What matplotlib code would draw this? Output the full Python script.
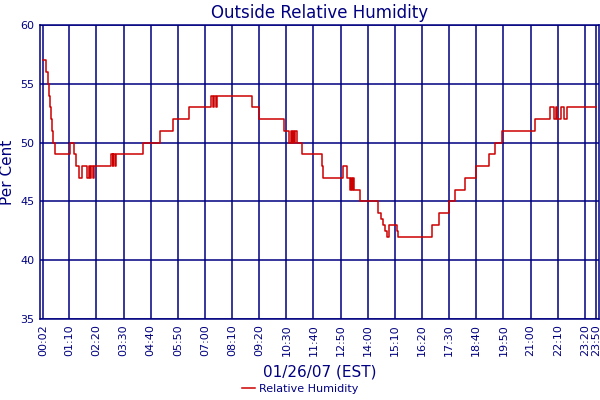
import numpy as np
import matplotlib
matplotlib.use('Agg')
import matplotlib.pyplot as plt

# humidity readings (minutes after midnight, value)
minutes = [2, 11, 14, 17, 20, 23, 25, 28, 33, 71, 83, 87, 95, 103, 116, 120,
           123, 127, 130, 135, 177, 182, 184, 187, 190, 260, 305, 337, 380,
           435, 440, 444, 448, 450, 542, 559, 624, 637, 641, 644, 646, 650,
           653, 658, 671, 721, 724, 775, 786, 795, 798, 800, 803, 805, 821,
           867, 875, 880, 885, 889, 895, 915, 918, 1006, 1023, 1050, 1066,
           1092, 1119, 1152, 1168, 1186, 1271, 1311, 1321, 1325, 1329, 1338,
           1346, 1354, 1428]
humidity = [57, 56, 55, 54, 53, 52, 51, 50, 49, 50, 49, 48, 47, 48, 47, 48,
            47, 48, 47, 48, 49, 48, 49, 48, 49, 50, 51, 52, 53,
            54, 53, 54, 53, 54, 53, 52, 51, 50, 51, 50, 51, 50,
            51, 50, 49, 48, 47, 48, 47, 46, 47, 46, 47, 46, 45,
            44, 43.5, 43, 42.5, 42, 43, 42.5, 42, 43, 44, 45, 46,
            47, 48, 49, 50, 51, 52, 53, 52, 53, 52, 53,
            52, 53, 53]

tick_min = [2, 70, 140, 210, 280, 350, 420, 490, 560, 630, 700, 770, 840,
            910, 980, 1050, 1120, 1190, 1260, 1330, 1400, 1430]
tick_lbl = ['00:02', '01:10', '02:20', '03:30', '04:40', '05:50', '07:00',
            '08:10', '09:20', '10:30', '11:40', '12:50', '14:00', '15:10',
            '16:20', '17:30', '18:40', '19:50', '21:00', '22:10', '23:20',
            '23:50']

navy = '#000080'

fig = plt.figure(figsize=(6, 4), dpi=100)
ax = fig.add_axes([0.067, 0.2025, 0.931, 0.735])

ax.plot(minutes, humidity, color='#cc0000', lw=1.1, drawstyle='steps-post',
        label='Relative Humidity')

ax.set_xlim(-5, 1436)
ax.set_ylim(35, 60)
ax.set_yticks([35, 40, 45, 50, 55, 60])
ax.set_xticks(tick_min)
ax.set_xticklabels(tick_lbl, rotation=90)
ax.grid(True, color=navy, lw=1.1)
ax.tick_params(length=0, colors=navy, labelsize=8, pad=4)
for s in ax.spines.values():
    s.set_color(navy)
    s.set_linewidth(1.1)

ax.set_title('Outside Relative Humidity', color=navy, fontsize=12, pad=5)
ax.set_ylabel('Per Cent', color=navy, fontsize=11, labelpad=4)
ax.set_xlabel('01/26/07 (EST)', color=navy, fontsize=11, labelpad=6)

fig.legend(loc='lower center', bbox_to_anchor=(0.5, -0.01), frameon=False,
           fontsize=8, handlelength=1.2, handletextpad=0.3,
           labelcolor=navy)

fig.savefig('out.png', dpi=100)
